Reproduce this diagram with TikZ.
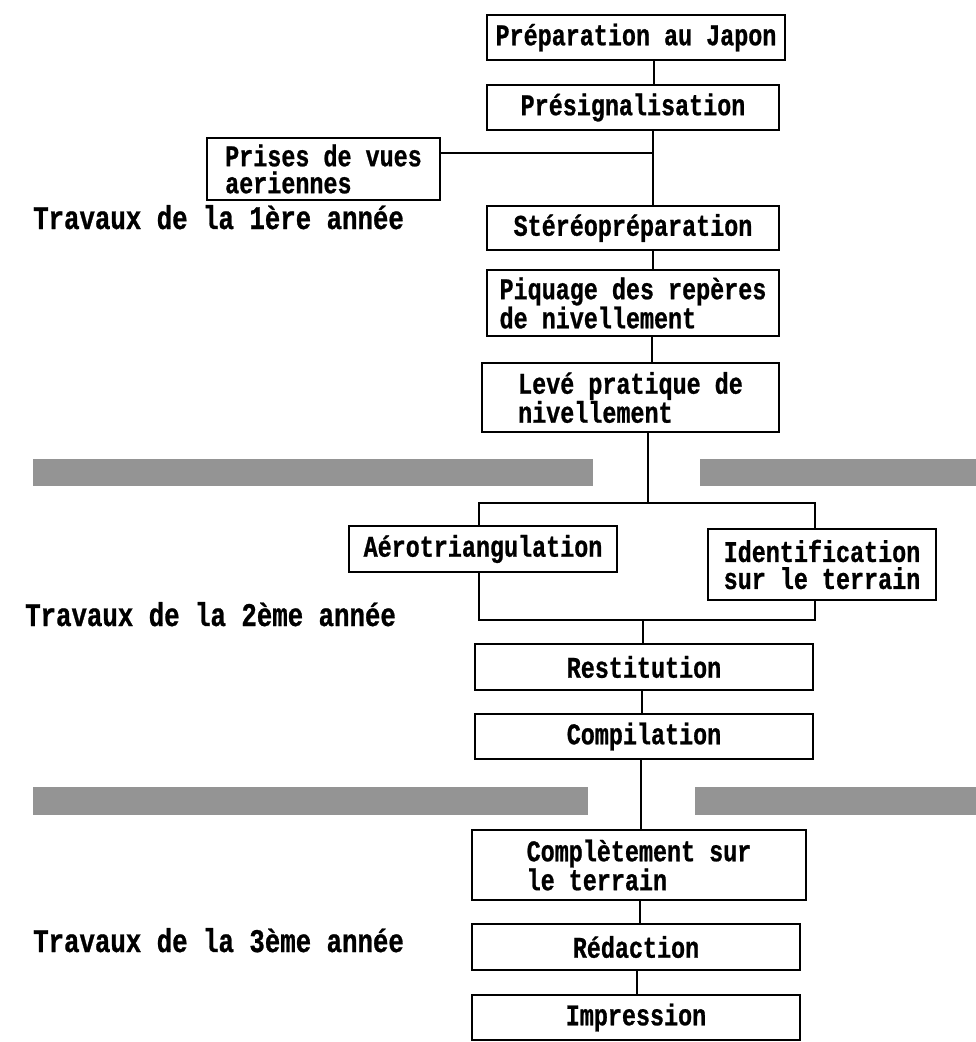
\documentclass[tikz,border=0pt]{standalone}
\usepackage{fontspec}
\newfontfamily\dotfont{Liberation Mono}[FakeStretch=0.78,FakeBold=0.8]
\newcommand\boxfont{\dotfont\bfseries\fontsize{30}{27}\selectfont}
\newcommand\lblfont{\dotfont\bfseries\fontsize{33}{26}\selectfont}
\tikzset{
  box/.style={draw, line width=1.5pt, inner sep=0pt, outer sep=0pt, anchor=north west, font=\boxfont, align=left},
  link/.style={line width=2pt},
  thinlink/.style={line width=1.1pt},
  band/.style={fill=black!42, draw=none},
  lbl/.style={anchor=base west, font=\lblfont, inner sep=0pt}
}
\begin{document}
\begin{tikzpicture}[x=1pt,y=-1pt]
\useasboundingbox (0,0) rectangle (976,1042);
% shaded bands
\fill[band] (33,459) rectangle (593,486);
\fill[band] (700,459) rectangle (976,486);
\fill[band] (33,787) rectangle (588,815);
\fill[band] (695,787) rectangle (976,815);
% boxes
\node[box, minimum width=298pt, minimum height=45pt] (prep) at (487,15) {Préparation au Japon};
\node[box, minimum width=292pt, minimum height=45pt] (presig) at (487,85) {Présignalisation};
\node[box, minimum width=233pt, minimum height=62pt] (prises) at (207,138) {Prises de vues\\aeriennes};
\node[box, minimum width=292pt, minimum height=44pt] (stereo) at (487,206) {Stéréopréparation};
\node[box, minimum width=292pt, minimum height=66pt] (piq) at (487,270) {Piquage des repères\\de nivellement};
\node[box, minimum width=297pt, minimum height=69pt] (leve) at (482,363) {Levé pratique de\\nivellement};
\node[box, minimum width=268pt, minimum height=46pt] (aero) at (349,526) {Aérotriangulation};
\node[box, minimum width=228pt, minimum height=71pt] (ident) at (708,529) {Identification\\sur le terrain};
\node[box, minimum width=338pt, minimum height=46pt] (restit) at (475,644) {Restitution};
\node[box, minimum width=338pt, minimum height=45pt] (compil) at (475,714) {Compilation};
\node[box, minimum width=334pt, minimum height=70pt] (compl) at (472,830) {Complètement sur\\le terrain};
\node[box, minimum width=328pt, minimum height=46pt] (redac) at (472,924) {Rédaction};
\node[box, minimum width=328pt, minimum height=45pt] (impr) at (472,995) {Impression};
% labels
\node[lbl] (t1) at (33,229) {Travaux de la 1ère année};
\node[lbl] (t2) at (25,626) {Travaux de la 2ème année};
\node[lbl] (t3) at (33,952) {Travaux de la 3ème année};
% connector positions
\coordinate (xa) at (654,0);
\coordinate (xb) at (653,0);
\coordinate (xc) at (652,0);
\coordinate (xd) at (648,0);
\coordinate (xl) at (479,0);
\coordinate (xr) at (815,0);
\coordinate (xe) at (643,0);
\coordinate (xf) at (642,0);
\coordinate (xg) at (641,0);
\coordinate (xh) at (640,0);
\coordinate (xi) at (637,0);
\coordinate (yb) at (0,503);
\coordinate (yj) at (0,620);
\coordinate (yp) at (0,153);
% connectors
\draw[link] (prep.south -| xa) -- (presig.north -| xa);
\draw[link] (presig.south -| xb) -- (stereo.north -| xb);
\draw[thinlink] (prises.east |- yp) -- (xb |- yp);
\draw[link] (stereo.south -| xb) -- (piq.north -| xb);
\draw[link] (piq.south -| xc) -- (leve.north -| xc);
\draw[link] (leve.south -| xd) -- (xd |- yb);
\draw[link] (aero.north -| xl) -- (xl |- yb) -- (xr |- yb) -- (ident.north -| xr);
\draw[link] (aero.south -| xl) -- (xl |- yj) -- (xr |- yj) -- (ident.south -| xr);
\draw[link] (xe |- yj) -- (restit.north -| xe);
\draw[link] (restit.south -| xf) -- (compil.north -| xf);
\draw[link] (compil.south -| xg) -- (compl.north -| xg);
\draw[link] (compl.south -| xh) -- (redac.north -| xh);
\draw[link] (redac.south -| xi) -- (impr.north -| xi);
\end{tikzpicture}
\end{document}
